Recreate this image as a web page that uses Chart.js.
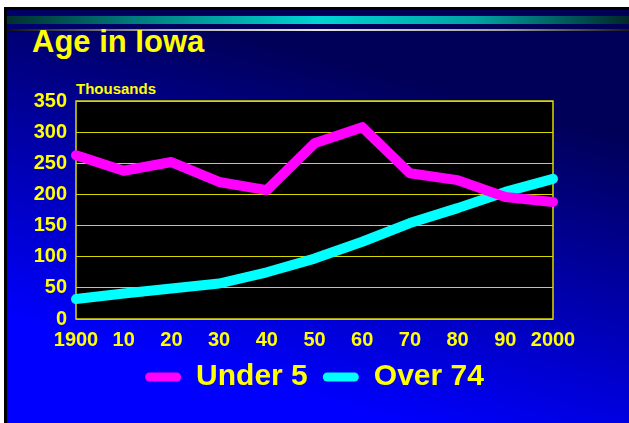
<!DOCTYPE html>
<html><head><meta charset="utf-8">
<script src="https://cdn.jsdelivr.net/npm/chart.js@4"></script>
<style>
html,body{margin:0;padding:0;width:629px;height:423px;overflow:hidden;background:#fff;}
#slide{position:absolute;left:4px;top:7px;width:625px;height:416px;box-sizing:border-box;border-left:3px solid #000;border-top:3px solid #000;background:linear-gradient(195deg,#000058 22%,#0000ff 82%);}
#bar1{position:absolute;left:7px;top:16px;width:622px;height:8px;background:linear-gradient(to right,#003030 0%,#007a7a 20%,#00d4d4 50%,#00a4a4 75%,#002828 100%);}
#bar2{position:absolute;left:7px;top:29px;width:622px;height:2px;background:linear-gradient(to right,#101010 0%,#b0b0b0 25%,#e4e4e4 50%,#a0a0a0 80%,#1a1a1a 100%);}
#title{position:absolute;left:32px;top:26px;font:bold 31px "Liberation Sans",Arial,sans-serif;line-height:1;color:#ffff00;white-space:nowrap;}
#units{position:absolute;left:76px;top:81px;font:bold 15px "Liberation Sans",Arial,sans-serif;line-height:1;color:#ffff00;white-space:nowrap;}
canvas{position:absolute;left:0;top:0;}
</style>
</head><body>
<div id="slide"></div>
<div id="bar1"></div>
<div id="bar2"></div>
<div id="title">Age in Iowa</div>
<div id="units">Thousands</div>
<canvas id="c" width="629" height="423"></canvas>
<script>
const years = ['1900','10','20','30','40','50','60','70','80','90','2000'];
const under5 = [263, 238, 252, 220, 207, 282, 308, 234, 223, 196, 188];
const over74 = [32, 41, 49, 57, 75, 97, 124, 154, 178, 204, 225];
const seriesNames = ['Under 5', 'Over 74'];

const FONT = '"Liberation Sans", Arial, sans-serif';
const YEL = '#ffff00';
const GRID = '#d8d800';

const areaPlugin = {
  id: 'area',
  beforeDraw(chart) {
    const a = chart.chartArea, ctx = chart.ctx;
    ctx.save();
    ctx.fillStyle = '#000';
    ctx.fillRect(a.left, a.top, a.right - a.left, a.bottom - a.top);
    ctx.restore();
  },
  beforeDatasetsDraw(chart) {
    const a = chart.chartArea, ctx = chart.ctx;
    ctx.save();
    ctx.strokeStyle = GRID;
    ctx.lineWidth = 1.5;
    ctx.strokeRect(a.left, a.top, a.right - a.left, a.bottom - a.top);
    ctx.restore();
  }
};

new Chart(document.getElementById('c'), {
  type: 'line',
  data: {
    labels: years,
    datasets: [
      {label: seriesNames[0], data: under5, borderColor: '#ff00ff', backgroundColor: '#ff00ff',
       borderWidth: 10, pointRadius: 0, borderCapStyle: 'round', borderJoinStyle: 'round', tension: 0, clip: false},
      {label: seriesNames[1], data: over74, borderColor: '#00ffff', backgroundColor: '#00ffff',
       borderWidth: 10, pointRadius: 0, borderCapStyle: 'round', borderJoinStyle: 'round', tension: 0, clip: false}
    ]
  },
  options: {
    responsive: false,
    animation: false,
    layout: {padding: {left: 0, right: 76, top: 101, bottom: 21}},
    plugins: {
      tooltip: {enabled: false},
      legend: {
        position: 'bottom',
        fullSize: false,
        labels: {
          color: YEL,
          font: {family: FONT, size: 30, weight: 'bold'},
          boxWidth: 36, boxHeight: 9, padding: 15,
          useBorderRadius: true, borderRadius: 4.5,
          generateLabels(chart) {
            const items = Chart.defaults.plugins.legend.labels.generateLabels(chart);
            items.forEach(it => { it.lineWidth = 0; it.strokeStyle = 'rgba(0,0,0,0)'; });
            return items;
          }
        }
      }
    },
    scales: {
      x: {
        offset: false,
        grid: {display: false, drawTicks: false},
        border: {display: false},
        ticks: {color: YEL, font: {family: FONT, size: 20, weight: 'bold'}, padding: 9, maxRotation: 0, autoSkip: false},
        afterFit(s) { s.height = 28; }
      },
      y: {
        min: 0, max: 350,
        ticks: {stepSize: 50, color: YEL, font: {family: FONT, size: 20, weight: 'bold'}, padding: 9},
        grid: {color: GRID, lineWidth: 1, drawTicks: false},
        border: {display: false},
        afterFit(s) { s.width = 76; }
      }
    }
  },
  plugins: [areaPlugin]
});
</script>
</body></html>
